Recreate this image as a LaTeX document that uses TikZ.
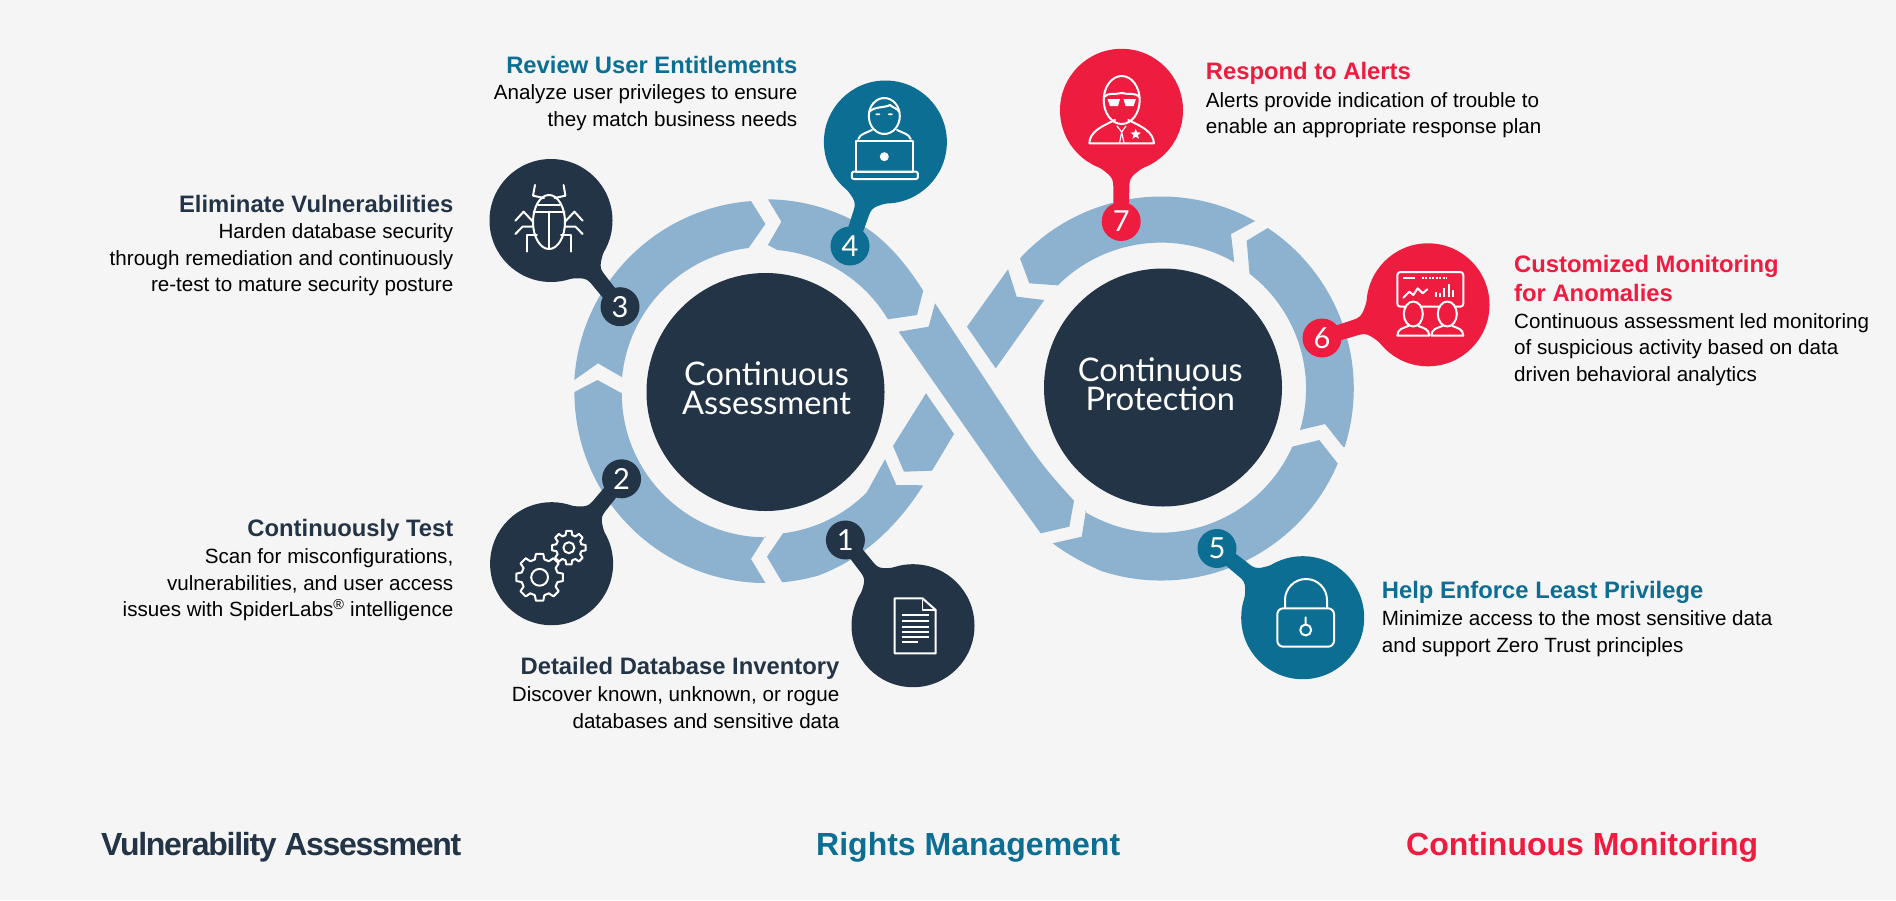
\documentclass[tikz,border=0pt]{standalone}
\usepackage{fontspec}
\setmainfont{Liberation Sans}
\newfontfamily\ringfont{Lato}
\usetikzlibrary{calc, shapes.geometric}
\definecolor{pagegray}{HTML}{F5F5F5}
\definecolor{navy}{HTML}{233446}
\definecolor{teal}{HTML}{0B6E92}
\definecolor{alert}{HTML}{EE1C3F}
\definecolor{ringblue}{HTML}{8DB2CF}
\tikzset{
    ringseg/.style = {fill = ringblue},
    hub/.style = {circle, fill = navy, minimum size = 238pt, inner sep = 0pt},
    hubtext/.style = {text = white, inner sep = 0pt, align = center, font = \ringfont\fontsize{32.5}{29}\selectfont},
    bigdrop/.style = {circle, minimum size = 123pt, inner sep = 0pt},
    numdrop/.style = {circle, minimum size = 39pt, inner sep = 0pt, text = white, font = \ringfont\fontsize{29}{29}\selectfont},
    iconline/.style = {draw = white, line width = 2pt, line join = round, line cap = round},
    blurbright/.style = {anchor = north east, align = right, inner sep = 0pt, font = \fontsize{20.6}{26.4}\selectfont},
    blurbleft/.style = {anchor = north west, align = left, inner sep = 0pt, font = \fontsize{20.6}{26.4}\selectfont},
    column/.style = {anchor = west, inner sep = 0pt, font = \bfseries\fontsize{32}{34}\selectfont}
}
\newcommand{\headline}[2]{{\color{#1}\bfseries\fontsize{23.8}{27}\selectfont #2}}
\newcommand{\gearicon}[4]{
    \draw[iconline] (#1) circle[radius = #2];
    \foreach \a in {0, 45, ..., 315}
    {
        \draw[iconline] ([shift = {(\a-15:#3)}]#1) -- ([shift = {(\a-9:#4)}]#1) -- ([shift = {(\a+9:#4)}]#1)
            -- ([shift = {(\a+15:#3)}]#1) -- ([shift = {(\a+30:#3)}]#1);
    }
}

\begin{document}
\begin{tikzpicture}[x = 1pt, y = -1pt]
        \useasboundingbox (0, 0) rectangle (1896, 900);
        \fill[pagegray] (0, 0) rectangle (1896, 900);

        \coordinate (lc) at (765.5, 392);
        \coordinate (rc) at (1161, 388.5);

        \fill[ringseg] (885, 459.3) -- (896.4, 485) -- (923.2, 485.3) .. controls (895, 530) and (860, 560) .. ([shift = {(74:191)}]lc)
            arc[start angle = 74, end angle = 85, radius = 191] -- (767, 556.7) -- (783, 533.3)
            arc[start angle = 83, end angle = 45, radius = 143] -- cycle;
        \fill[ringseg] (765.4, 536) -- (751, 559) -- (765.4, 583) arc[start angle = 90, end angle = 180, radius = 191]
            -- (597.5, 380) -- (621.8, 393.3) arc[start angle = 180, end angle = 90, radius = 144] -- cycle;
        \fill[ringseg] (574.3, 380) arc[start angle = 183.6, end angle = 265.7, radius = 191.5] -- (765.4, 224) -- (748.6, 248)
            arc[start angle = 263.3, end angle = 185.5, radius = 144] -- (598, 363.3) -- cycle;
        \fill[ringseg] (767.9, 199.3) arc[start angle = 270.7, end angle = 300, radius = 192] .. controls (885, 239) and (905, 262) .. (923.2, 290.7)
            -- (917, 315) -- (887.9, 319.3) arc[start angle = 329.2, end angle = 275, radius = 143] -- (767.9, 245) -- (781.4, 221.7) -- cycle;
        \fill[ringseg] (935, 303.3) -- (928.6, 326.7) -- (898.6, 331.7) -- (1000, 477) -- (1040.7, 533.3) -- (1069.3, 526.7) -- (1074, 500.7)
            .. controls (1052, 477) and (1040, 462) .. (1025, 440) -- cycle;
        \fill[ringseg] (926, 393.3) -- (954, 434) -- (932, 470.7) -- (904, 471.7) -- (893, 446) -- cycle;
        \fill[ringseg] (1008, 269.3) -- (1016.7, 296.7) -- (1044.3, 300) -- (995.7, 368.3) -- (967, 326.7) -- cycle;
        \fill[ringseg] (1086, 510) -- (1081.7, 536.7) -- (1052.7, 543.3) .. controls (1067, 554) and (1083, 563) .. ([shift = {(108:192)}]rc)
            arc[start angle = 108, end angle = 23, radius = 192] -- (1319.3, 440) -- (1292.3, 446.7)
            arc[start angle = 24, end angle = 121, radius = 145] -- cycle;
        \fill[ringseg] (1343, 446.7) -- (1325, 424) -- (1300, 430) arc[start angle = 16.6, end angle = -52.4, radius = 145]
            -- (1246.7, 240.7) -- (1267.7, 228) arc[start angle = -56.4, end angle = 17.7, radius = 192.7] -- cycle;
        \fill[ringseg] (1255.7, 220.7) -- (1231, 234) -- (1234.3, 262.3) arc[start angle = -59.9, end angle = -135, radius = 146]
            -- (1029.3, 283.3) -- (1020, 258.3) arc[start angle = -137.3, end angle = -60.6, radius = 192] -- cycle;

        \node[hub] (assess) at (765.5, 392) {};
        \node[hub] (protect) at (1163, 387.5) {};
        \node[hubtext] (assesstext) at (766.5, 388.5) {Continuous\\Assessment};
        \node[hubtext] (protecttext) at (1160.2, 384) {Continuous\\Protection};

        \foreach \id/\bx/\by/\nx/\ny/\col in {1/913/625.7/845.4/540/navy, 2/551.6/563.7/621.6/478.8/navy, 3/551/220.5/620/306.7/navy,
            4/885.4/142/850/246/teal, 5/1302.7/617.7/1217/548.5/teal, 6/1428/304.8/1322/338/alert, 7/1121.5/110.3/1121.2/221.5/alert}
        {
            \node[bigdrop, fill = \col] (drop\id) at (\bx, \by) {};
            \coordinate (flare\id) at ($(drop\id)!0.60!(\nx, \ny)$);
            \coordinate (waist\id) at ($(drop\id)!0.72!(\nx, \ny)$);
            \fill[\col] let \p1 = ($(\nx, \ny)-(drop\id)$), \n1 = {atan2(\y1, \x1)} in
                ($(drop\id)+(\n1+28:60pt)$) .. controls ($(flare\id)+(\n1+90:8pt)$) .. ($(waist\id)+(\n1+90:8pt)$)
                -- ($(\nx, \ny)+(\n1+156:19pt)$) -- ($(\nx, \ny)+(\n1-156:19pt)$) -- ($(waist\id)+(\n1-90:8pt)$)
                .. controls ($(flare\id)+(\n1-90:8pt)$) .. ($(drop\id)+(\n1-28:60pt)$) -- cycle;
            \node[numdrop, fill = \col] (num\id) at (\nx, \ny) {\id};
        }

        % document
        \draw[iconline] (894.6, 598.3) -- (922.5, 598.3) -- (935.7, 610) -- (935.7, 653.3) -- (894.6, 653.3) -- cycle;
        \draw[iconline, line width = 1.2pt] (922.5, 598.3) -- (922.5, 610) -- (935.7, 610);
        \foreach \ly in {615, 620.7, 626.7, 631.7, 636.7}
        {
            \draw[iconline, line cap = butt] (901.8, \ly) -- (928.6, \ly);
        }
        \draw[iconline, line cap = butt] (901.8, 641.7) -- (917.9, 641.7);

        % gears
        \gearicon{539.6, 577.3}{8.4}{18.5}{23.6}
        \gearicon{568.9, 547.7}{5.5}{13}{17}

        % bug
        \draw[iconline] (549, 222) ellipse[x radius = 16, y radius = 27];
        \draw[iconline] (533.5, 211.7) -- (564.5, 211.7) (549, 211.7) -- (549, 248.5) (538, 205) -- (560, 205);
        \draw[iconline] (535, 185) -- (533, 195.7) -- (544, 198) (563.6, 185) -- (565.4, 195.7) -- (554.6, 198);
        \draw[iconline] (533, 221.7) -- (523.6, 211.7) -- (515.4, 220.7) (565, 221.7) -- (574.4, 211.7) -- (582.6, 220.7);
        \draw[iconline] (533, 226.7) -- (522.5, 226.7) -- (515.4, 234) (565, 226.7) -- (575.5, 226.7) -- (582.6, 234);
        \draw[iconline] (536.8, 235) -- (526.8, 235) -- (526.8, 251.7) (561.2, 235) -- (571.2, 235) -- (571.2, 251.7);

        % laptop
        \draw[iconline] (884.3, 116) ellipse[x radius = 15.5, y radius = 18];
        \draw[iconline] (869, 112) .. controls (875, 106) and (885, 108) .. (890, 105) .. controls (893, 108) and (897, 108) .. (899.5, 112);
        \fill[white] (877.9, 114.3) ellipse[x radius = 2.5, y radius = 1] (890.4, 114.3) ellipse[x radius = 2.5, y radius = 1];
        \draw[iconline] (858.3, 139) .. controls (860, 134) and (866, 133) .. (872, 130) (910.7, 139) .. controls (909, 134) and (903, 133) .. (897, 130);
        \draw[iconline] (856.4, 140.7) rectangle (912.9, 171.7);
        \fill[white] (884.3, 156.7) circle[radius = 4.5];
        \draw[iconline, rounded corners = 2pt] (851.8, 171.7) rectangle (917.9, 179);

        % padlock
        \draw[iconline, rounded corners = 6pt] (1277.3, 608.3) rectangle (1334, 646.7);
        \draw[iconline] (1285, 608) -- (1285, 600) arc[start angle = 180, end angle = 360, radius = 21] -- (1327, 608);
        \draw[iconline] (1305.7, 630) circle[radius = 5.5] (1305.7, 624.5) -- (1305.7, 617.3);

        % dashboard
        \draw[iconline, rounded corners = 3pt] (1397.3, 272) rectangle (1463.3, 306.7);
        \draw[iconline, line width = 2pt, line cap = butt] (1403.3, 278.3) -- (1415, 278.3);
        \draw[iconline, line width = 2pt, line cap = butt, dash pattern = on 2pt off 1.5pt] (1421.7, 278.3) -- (1446.7, 278.3);
        \draw[iconline] (1403.3, 297.7) -- (1409.3, 291.7) -- (1413.3, 295) -- (1417.7, 288.3) -- (1422.7, 293.3) -- (1427.3, 289.3);
        \foreach \bx/\bt in {1436/291.7, 1440/293.3, 1444.3/288.3, 1449/284, 1453.3/290}
        {
            \draw[iconline, line cap = butt] (\bx, \bt) -- (\bx, 297.3);
        }
        \foreach \hx in {1413.3, 1447.3}
        {
            \filldraw[iconline, fill = alert] (\hx, 314) ellipse[x radius = 9.5, y radius = 12.5];
            \draw[iconline] (\hx-16, 335.7) .. controls (\hx-16, 329) and (\hx-10, 328) .. (\hx-5, 326) (\hx+16, 335.7) .. controls (\hx+16, 329) and (\hx+10, 328) .. (\hx+5, 326)
                (\hx-16, 335.7) -- (\hx+16, 335.7);
        }

        % officer
        \draw[iconline] (1121.7, 100) ellipse[x radius = 18, y radius = 24];
        \draw[iconline] (1104, 97) .. controls (1108, 92) and (1115, 95) .. (1121.7, 93) .. controls (1128, 95) and (1135, 92) .. (1139.5, 97);
        \fill[white] (1107.5, 99) -- (1120, 99) -- (1118, 106) -- (1110, 106) -- cycle (1123.5, 99) -- (1136, 99) -- (1133.5, 106) -- (1125.5, 106) -- cycle;
        \draw[iconline] (1089.3, 143.3) .. controls (1090, 132) and (1100, 127) .. (1115, 120) (1154, 143.3) .. controls (1153, 132) and (1143, 127) .. (1128.3, 120)
            (1089.3, 143.3) -- (1154, 143.3);
        \draw[iconline, line width = 1.2pt] (1117, 126) -- (1121.7, 132) -- (1126, 126) (1119.5, 143) -- (1121.7, 132) -- (1124, 143);
        \node[star, star points = 5, star point ratio = 2.3, fill = white, inner sep = 0pt, minimum size = 11pt] (badge) at (1135.7, 134.3) {};

        \node[blurbright] (text4) at (797.5, 56) {\headline{teal}{Review User Entitlements}\\Analyze user privileges to ensure\\they match business needs};
        \node[blurbright] (text3) at (453.5, 195) {\headline{navy}{Eliminate Vulnerabilities}\\Harden database security\\through remediation and continuously\\re-test to mature security posture};
        \node[blurbright] (text2) at (453.5, 519) {\headline{navy}{Continuously Test}\\[1pt]Scan for misconfigurations,\\vulnerabilities, and user access\\issues with SpiderLabs\textsuperscript{®} intelligence};
        \node[blurbright] (text1) at (839.6, 657) {\headline{navy}{Detailed Database Inventory}\\[1pt]Discover known, unknown, or rogue\\databases and sensitive data};
        \node[blurbleft] (text7) at (1205.7, 62.5) {\headline{alert}{Respond to Alerts}\\[1pt]Alerts provide indication of trouble to\\enable an appropriate response plan};
        \node[blurbleft] (text6) at (1514, 255) {\headline{alert}{Customized Monitoring}\\[2.6pt]\headline{alert}{for Anomalies}\\[0.4pt]Continuous assessment led monitoring\\of suspicious activity based on data\\driven behavioral analytics};
        \node[blurbleft] (text5) at (1381.7, 581) {\headline{teal}{Help Enforce Least Privilege}\\[1pt]Minimize access to the most sensitive data\\and support Zero Trust principles};

        \node[column, text = navy] (vuln) at (101, 847) {\addfontfeature{LetterSpace=-4}Vulnerability Assessment};
        \node[column, text = teal] (rights) at (816, 847) {Rights Management};
        \node[column, text = alert] (monitor) at (1406, 847) {Continuous Monitoring};
    \end{tikzpicture}
\end{document}
